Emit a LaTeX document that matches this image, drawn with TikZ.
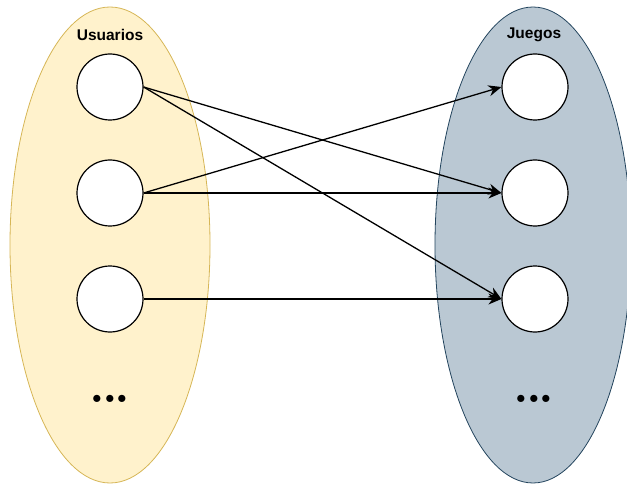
\documentclass[tikz,border=0pt]{standalone}
\usepackage{fontspec}
\setmainfont{Liberation Sans}
\newfontfamily\lmfont{Latin Modern Roman}
\usetikzlibrary{shapes.geometric,arrows.meta}

\definecolor{userfill}{HTML}{FFF2CC}
\definecolor{userline}{HTML}{D6B656}
\definecolor{gamefill}{HTML}{BAC8D3}
\definecolor{gameline}{HTML}{23445D}

\newcommand{\moredots}{.\kern-3pt.\kern-3pt.}

\begin{document}
\begin{tikzpicture}[x=1pt,y=-1pt,
    set node/.style={ellipse,draw,line width=0.8pt,inner sep=0,minimum width=200pt,minimum height=476pt},
    main node/.style={circle,draw,fill=white,line width=1.2pt,minimum size=66pt,inner sep=0},
    title node/.style={font=\fontsize{15.5}{18}\selectfont\bfseries},
    dots node/.style={font=\lmfont\fontsize{50}{50}\selectfont\bfseries,inner sep=0}]
                \useasboundingbox (0,0) rectangle (627,484);

                % the two sets
                \node[set node,fill=userfill,draw=userline] at (110, 245) (usuarios) {};
                \node[set node,fill=gamefill,draw=gameline,minimum width=196pt] at (533, 245) (juegos) {};
                \node[title node] at (110, 35) (tusuarios) {Usuarios};
                \node[title node] at (534, 35) (tjuegos) {Juegos};

                % elements
                \node[main node] at (110, 87) (u1) {};
                \node[main node] at (110, 193) (u2) {};
                \node[main node] at (110, 299) (u3) {};
                \node[main node] at (535, 87) (j1) {};
                \node[main node] at (535, 193) (j2) {};
                \node[main node] at (535, 299) (j3) {};
                \node[dots node] at (110, 399) (udots) {\moredots};
                \node[dots node] at (534, 399) (jdots) {\moredots};

                \path[line width=1.3pt,-{Stealth[length=13pt,width=11pt]}]
                    (u1.east) edge (j2.west)
                    (u1.east) edge (j3.west)
                    (u2.east) edge (j1.west)
                    (u2.east) edge (j2.west)
                    (u3.east) edge (j3.west)
                    ;
            \end{tikzpicture}
\end{document}
